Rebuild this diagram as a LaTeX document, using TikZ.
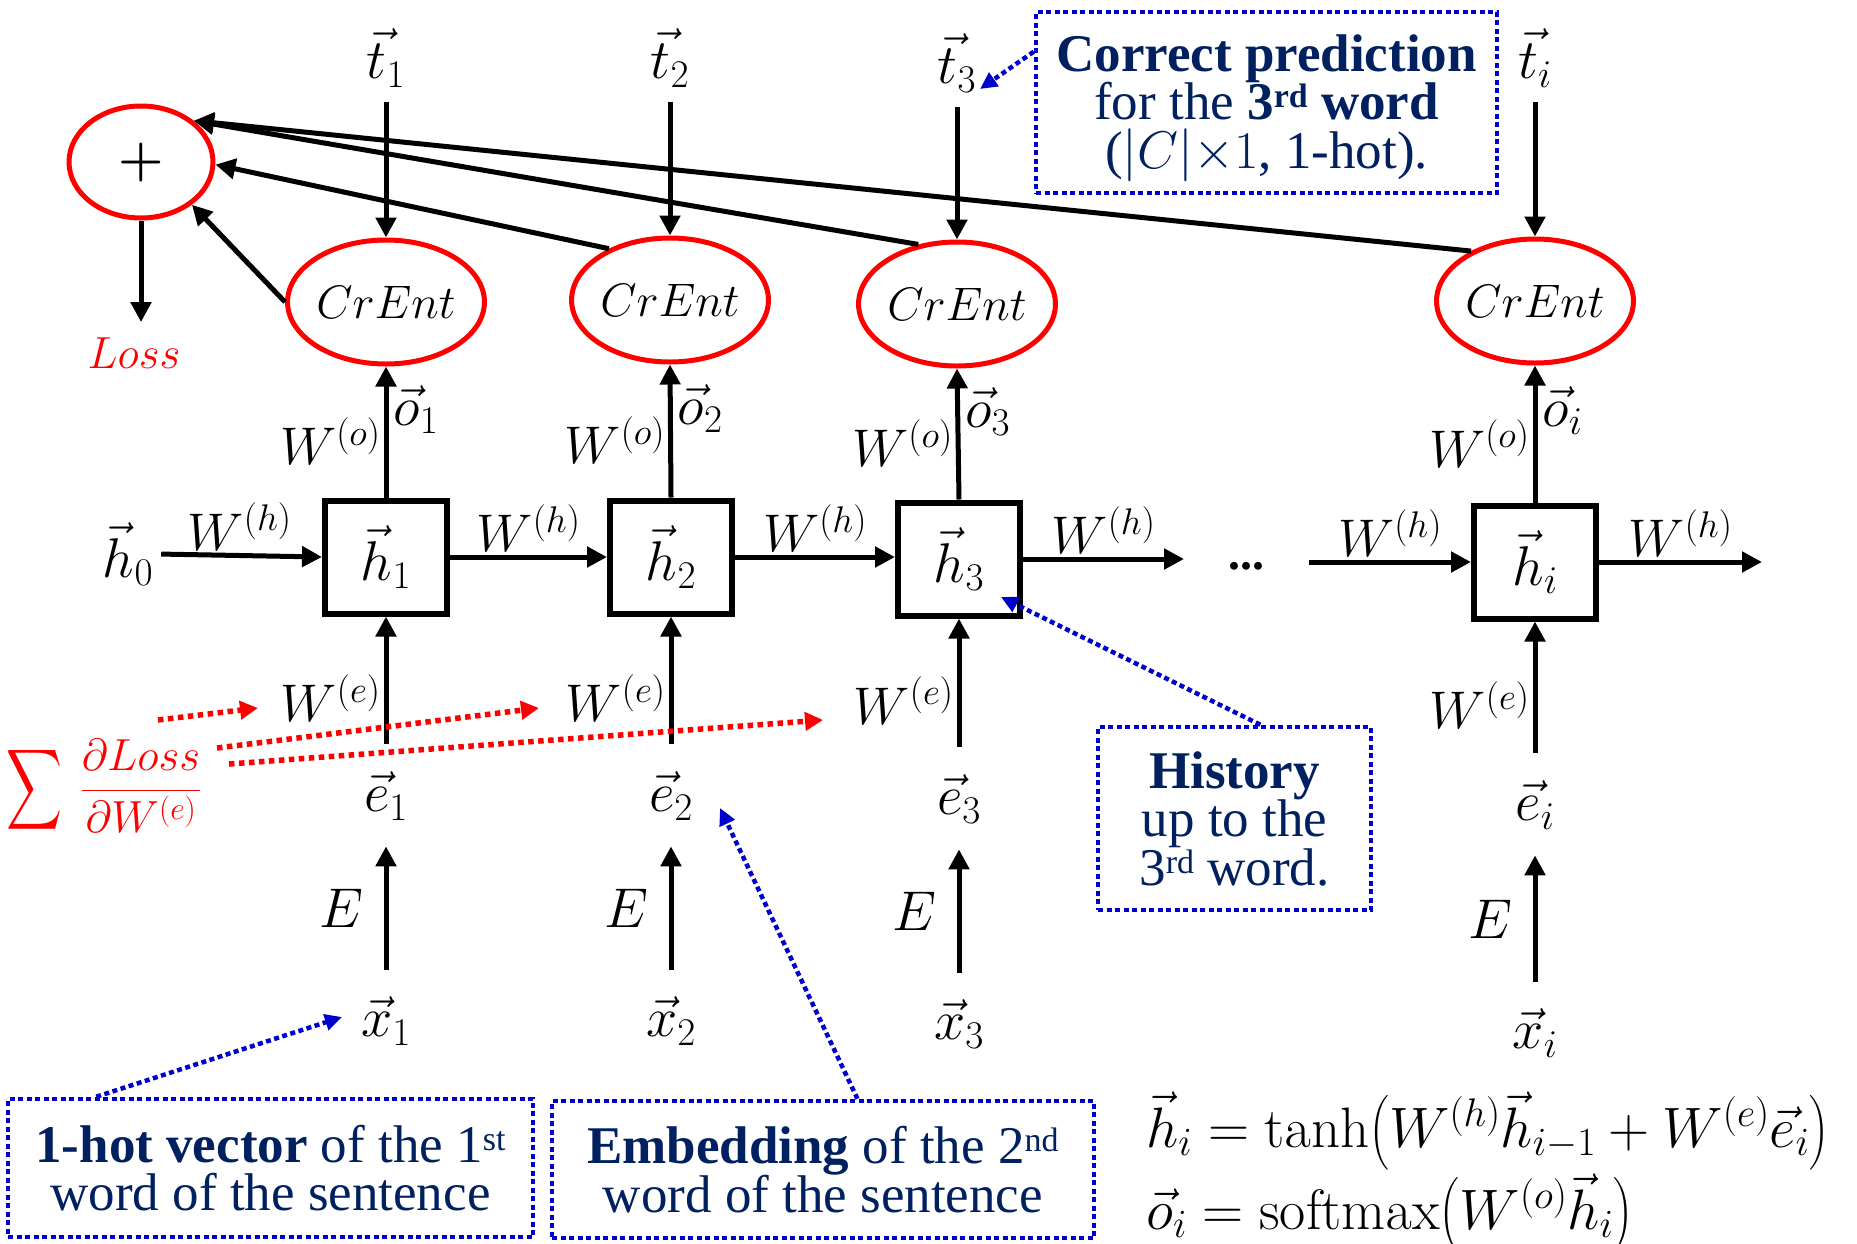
\RequirePackage{fix-cm}
\documentclass[tikz,border=0pt]{standalone}
\usepackage{amsmath}
\usepackage{exscale}
\usepackage[no-math]{fontspec}
\setmainfont{Liberation Serif}
\usetikzlibrary{arrows.meta,shapes.geometric,calc}
\definecolor{navy}{RGB}{0,32,96}
\definecolor{dblue}{RGB}{0,0,204}
\definecolor{pred}{RGB}{255,0,0}
\newcommand{\fs}[1]{\fontsize{#1}{#1}\selectfont}
\newcommand{\boxfont}{\fontsize{53}{48.5}\selectfont\lineskiplimit=-80pt\relax}
\newcommand{\sups}[1]{\raisebox{12pt}{\fontsize{34}{34}\selectfont #1}}
\begin{document}
\begin{tikzpicture}[x=1pt,y=-1pt,
  arr/.style={line width=5pt,-{Triangle[length=20pt,width=20pt]}},
  redellipse/.style={ellipse,draw=pred,line width=5pt,inner sep=0pt},
  crent/.style={redellipse,minimum width=154pt,minimum height=124pt,font=\fs{47}},
  hbox/.style={rectangle,draw,line width=6pt,minimum width=122pt,minimum height=113pt,inner sep=0pt,font=\fs{56}},
  vlab/.style={font=\fs{56},inner sep=4pt},
  wlab/.style={font=\fs{53},inner sep=3pt},
  bluebox/.style={draw=dblue,line width=4.5pt,dash pattern=on 5pt off 3.5pt,text=navy,align=center,
     font=\boxfont,inner sep=0pt},
  boxtext/.style={text=navy,align=center,font=\boxfont,inner sep=0pt},
  bptr/.style={draw=dblue,line width=4.5pt,dash pattern=on 5pt off 3.5pt,-{Triangle[length=17pt,width=16pt]}},
  rptr/.style={draw=pred,line width=5.5pt,dash pattern=on 5.5pt off 4.5pt,-{Triangle[length=18pt,width=18pt]}},
]
\fill[white] (0,0) rectangle (1857,1243);
\useasboundingbox (0,0) rectangle (1857,1243);

% plus and loss
\node[redellipse,minimum width=144pt,minimum height=112pt,font=\fs{52}\boldmath] (plus) at (141,162) {$+$};
\node[font=\fs{45},text=pred] (loss) at (134,353) {$Loss$};

% cross-entropy nodes
\node[crent] (c1) at (386,302) {$CrEnt$};
\node[crent] (c2) at (670,300) {$CrEnt$};
\node[crent] (c3) at (957,304) {$CrEnt$};
\node[crent] (c4) at (1535,301) {$CrEnt$};

% targets
\node[vlab] (t1) at (386,58) {$\vec t_1$};
\node[vlab] (t2) at (670,58) {$\vec t_2$};
\node[vlab] (t3) at (957,63) {$\vec t_3$};
\node[vlab] (t4) at (1535,58) {$\vec t_i$};

% hidden boxes
\node[hbox] (h1) at (386,557) {$\vec h_1$};
\node[hbox] (h2) at (671,557) {$\vec h_2$};
\node[hbox] (h3) at (959,559) {$\vec h_3$};
\node[hbox] (h4) at (1535,562) {$\vec h_i$};
\node[vlab] (h0) at (128,554) {$\vec h_0$};
\node[font=\fontsize{48}{48}\selectfont\bfseries,anchor=base] (dots) at (1246,569) {...};
\coordinate (h3out) at (1184,559);
\coordinate (h4in) at (1309,562);
\coordinate (h4out) at (1762,562);

% embeddings and inputs
\node[vlab] (e1) at (386,796) {$\vec e_1$};
\node[vlab] (e2) at (671,796) {$\vec e_2$};
\node[vlab] (e3) at (959,799) {$\vec e_3$};
\node[vlab] (e4) at (1535,805) {$\vec e_i$};
\node[vlab] (x1) at (386,1021) {$\vec x_1$};
\node[vlab] (x2) at (671,1021) {$\vec x_2$};
\node[vlab] (x3) at (959,1024) {$\vec x_3$};
\node[vlab] (x4) at (1535,1033) {$\vec x_i$};

% target arrows
\foreach \i in {1,2,3,4}{
  \draw[arr,shorten <=10pt] (t\i.south) -- (c\i.north);
}
% output arrows
\draw[arr] (h1.north) -- node[wlab,left,pos=0.43]{$W^{(o)}$} node[vlab,right,pos=0.67,inner sep=5pt]{$\vec o_1$} (c1.south);
\draw[arr] (h2.north) -- node[wlab,left,pos=0.43]{$W^{(o)}$} node[vlab,right,pos=0.67,inner sep=5pt]{$\vec o_2$} (c2.south);
\draw[arr] (h3.north) -- node[wlab,left,pos=0.43]{$W^{(o)}$} node[vlab,right,pos=0.67,inner sep=5pt]{$\vec o_3$} (c3.south);
\draw[arr] (h4.north) -- node[wlab,left,pos=0.43]{$W^{(o)}$} node[vlab,right,pos=0.67,inner sep=5pt]{$\vec o_i$} (c4.south);

% embedding arrows
\foreach \i in {1,2,3,4}{
  \draw[arr,shorten <=24pt] (e\i.north) -- node[wlab,left,pos=0.46]{$W^{(e)}$} (h\i.south);
  \draw[arr,shorten <=23pt,shorten >=22pt] (x\i.north) -- node[vlab,left=16pt]{$E$} (e\i.south);
}

% recurrent arrows
\draw[arr,shorten <=4pt] (h0.east) -- node[wlab,above]{$W^{(h)}$} (h1.west);
\draw[arr] (h1.east) -- node[wlab,above]{$W^{(h)}$} (h2.west);
\draw[arr] (h2.east) -- node[wlab,above]{$W^{(h)}$} (h2.east -| h3.west);
\draw[arr] (h3.east) -- node[wlab,above]{$W^{(h)}$} (h3out);
\draw[arr] (h4in) -- node[wlab,above]{$W^{(h)}$} (h4.west);
\draw[arr] (h4.east) -- node[wlab,above]{$W^{(h)}$} (h4out);

% to the sum
\draw[arr] (c1.180) -- (plus.-40);
\draw[arr] (c2.140) -- (plus.-2);
\draw[arr] (c3.123) -- (plus.38);
\draw[arr] (c4.142) -- (plus.38);
\draw[arr,shorten >=12pt] (plus.south) -- (plus.south |- loss.north);

% gradient sum
\node[text=pred,inner sep=0pt] (sum) at (35,790) {\resizebox*{56pt}{90pt}{$\displaystyle\sum$}};
\node[text=pred,font=\fs{45},inner sep=0pt] (frac) at (141,786) {$\displaystyle\frac{\partial Loss}{\partial W^{(e)}}$};
\coordinate (r1s) at (158,720); \coordinate (r1e) at (258,708);
\coordinate (r2s) at (217,748); \coordinate (r2e) at (539,708);
\coordinate (r3s) at (229,764); \coordinate (r3e) at (823,720);
\draw[rptr] (r1s) -- (r1e);
\draw[rptr] (r2s) -- (r2e);
\draw[rptr] (r3s) -- (r3e);

% annotation boxes
\node[bluebox,minimum width=461pt,minimum height=181pt] (corr) at (1266.5,102.5) {};
\node[boxtext] (corrt) at (1266.5,108)
  {\textbf{Correct prediction}\\for the \textbf{3\sups{rd} word}\\($|C|{\times}1$, 1-hot).};
\node[bluebox,minimum width=273pt,minimum height=183pt] (hist) at (1234.5,818.5)
  {\textbf{History}\\up to the\\3\sups{rd} word.};
\node[bluebox,minimum width=525pt,minimum height=138pt] (hot) at (270.5,1168)
  {\textbf{1-hot vector} of the 1\sups{st}\\word of the sentence};
\node[bluebox,minimum width=542pt,minimum height=137pt] (emb) at (823,1169.5)
  {\textbf{Embedding} of the 2\sups{nd}\\word of the sentence};

\coordinate (t3tip) at (980,89);
\coordinate (h3tip) at (1001,597);
\coordinate (x1tip) at (342,1017);
\coordinate (e2tip) at (720,808);
\draw[bptr] ($(corr.north west)!0.226!(corr.south west)$) -- (t3tip);
\draw[bptr] ($(hist.north west)!0.593!(hist.north east)$) -- (h3tip);
\draw[bptr] ($(hot.north west)!0.171!(hot.north east)$) -- (x1tip);
\draw[bptr] ($(emb.north west)!0.563!(emb.north east)$) -- (e2tip);

% equations
\node[anchor=west,font=\fs{57},inner sep=0pt] (eq1) at (1146,1131)
  {$\vec h_i = \tanh\bigl(W^{(h)}\vec h_{i-1}+W^{(e)}\vec e_i\bigr)$};
\node[anchor=west,font=\fs{57},inner sep=0pt] (eq2) at (1146,1213)
  {$\vec o_i = \operatorname{softmax}\bigl(W^{(o)}\vec h_i\bigr)$};
\end{tikzpicture}
\end{document}
